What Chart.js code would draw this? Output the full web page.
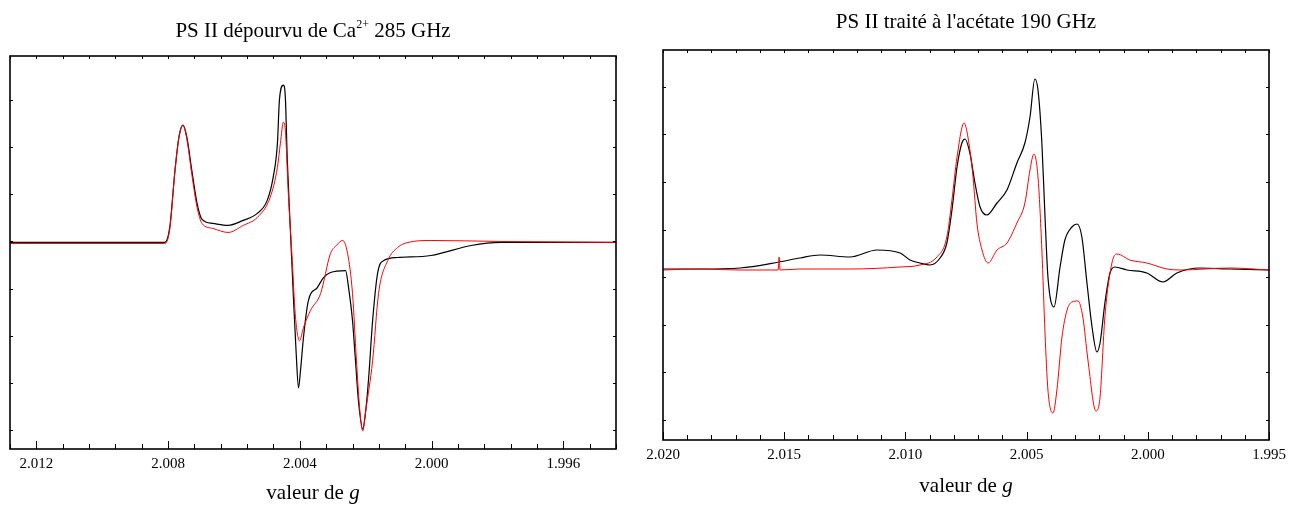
<!DOCTYPE html>
<html>
<head>
<meta charset="utf-8">
<script src="https://cdn.jsdelivr.net/npm/chart.js@4.4.0/dist/chart.umd.min.js"></script>
<style>
    html, body { margin: 0; padding: 0; background: #fff; }
    body { width: 1289px; height: 506px; position: relative; overflow: hidden; font-family: "Liberation Serif", "Times New Roman", serif; color: #000; }
    canvas { position: absolute; top: 0; }
    #left-chart { left: 0; }
    #right-chart { left: 640px; }
    .label { position: absolute; white-space: nowrap; font-size: 21px; line-height: 1; transform: translateX(-50%); z-index: 2; }
    .sup { font-size: 12px; position: relative; top: -9px; }
</style>
</head>
<body>
<canvas id="left-chart" width="640" height="506"></canvas>
<canvas id="right-chart" width="656" height="506"></canvas>

<div class="label" style="left:313px; top:20px;">PS II dépourvu de Ca<span class="sup">2+</span> 285 GHz</div>
<div class="label" style="left:966px; top:11px;">PS II traité à l'acétate 190 GHz</div>
<div class="label" style="left:313px; top:482px;">valeur de <i>g</i></div>
<div class="label" style="left:966px; top:475px;">valeur de <i>g</i></div>

<script>
// valeurs de g (axe x) et intensités (unités arbitraires)

// PS II dépourvu de Ca2+, 285 GHz
const leftBlackG = [2.01282, 2.0100, 2.00810, 2.00795, 2.00779, 2.00767, 2.00755, 2.00743, 2.00728, 2.00712,
    2.00697, 2.00664, 2.00618, 2.00572, 2.00529, 2.00499, 2.00481, 2.00468, 2.00462, 2.00450,
    2.00444, 2.00438, 2.00429, 2.00420, 2.00411, 2.00404, 2.00398, 2.00389, 2.00374, 2.00347,
    2.00328, 2.00307, 2.00261, 2.00252, 2.00240, 2.00231, 2.00222, 2.00209, 2.00200, 2.00191,
    2.00179, 2.00164, 2.00145, 2.00103, 2.00002, 1.99880, 1.99789, 1.99606, 1.99435];
const leftBlackI = [187, 187, 187, 202, 259, 292, 304, 292, 259, 226,
    210, 206, 204, 209, 216, 229, 252, 286, 329, 344,
    332, 269, 202, 136, 76, 42, 59, 92, 129, 142,
    152, 157, 159, 142, 109, 69, 29, 1, 19, 52,
    109, 156, 169, 172, 174, 184, 187, 187, 187];

const leftRedG = [2.01282, 2.00810, 2.00795, 2.00779, 2.00767, 2.00755, 2.00743, 2.00728, 2.00712, 2.00697,
    2.00664, 2.00618, 2.00572, 2.00529, 2.00490, 2.00468, 2.00459, 2.00450, 2.00444, 2.00435,
    2.00423, 2.00414, 2.00401, 2.00389, 2.00368, 2.00337, 2.00307, 2.00289, 2.00270, 2.00255,
    2.00240, 2.00228, 2.00219, 2.00209, 2.00200, 2.00179, 2.00161, 2.00133, 2.00103, 2.00072,
    2.00002, 1.99789, 1.99435];
const leftRedI = [186, 186, 200, 259, 292, 304, 290, 255, 222, 206,
    201, 197, 204, 212, 232, 262, 286, 307, 299, 236,
    169, 116, 89, 102, 119, 136, 176, 184, 189, 176,
    136, 69, 24, -1, 19, 69, 136, 169, 182, 187,
    189, 188, 187];

// PS II traité à l'acétate, 190 GHz
const rightBlackG = [2.02000, 2.01847, 2.01682, 2.01521, 2.01435, 2.01352, 2.01229, 2.01117, 2.01022, 2.00981,
    2.00940, 2.00899, 2.00857, 2.00829, 2.00808, 2.00787, 2.00767, 2.00754, 2.00734, 2.00713,
    2.00692, 2.00664, 2.00622, 2.00581, 2.00540, 2.00507, 2.00486, 2.00466, 2.00453, 2.00437,
    2.00424, 2.00412, 2.00387, 2.00362, 2.00342, 2.00313, 2.00292, 2.00272, 2.00251, 2.00230,
    2.00210, 2.00197, 2.00177, 2.00156, 2.00136, 2.00086, 2.00004, 1.99938, 1.99880, 1.99785,
    1.99661, 1.99500];
const rightBlackI = [151, 151, 152, 158, 162, 165, 163, 170, 167, 160,
    157, 155, 162, 177, 210, 253, 277, 281, 267, 237,
    213, 205, 217, 230, 257, 277, 303, 341, 330, 277,
    203, 143, 113, 153, 180, 193, 196, 183, 137, 93,
    68, 77, 117, 147, 153, 150, 147, 138, 147, 152,
    151, 150];

const rightRedG = [2.02000, 2.01847, 2.01682, 2.01525, 2.01521, 2.01517, 2.01435, 2.01229, 2.01022, 2.00940,
    2.00870, 2.00829, 2.00808, 2.00787, 2.00758, 2.00742, 2.00721, 2.00705, 2.00684, 2.00659,
    2.00622, 2.00581, 2.00540, 2.00507, 2.00486, 2.00470, 2.00453, 2.00437, 2.00424, 2.00412,
    2.00391, 2.00375, 2.00354, 2.00333, 2.00313, 2.00288, 2.00268, 2.00247, 2.00214, 2.00197,
    2.00177, 2.00148, 2.00127, 2.00074, 2.00004, 1.99921, 1.99867, 1.99661, 1.99500];
const rightRedI = [150, 151, 150, 150, 163, 150, 151, 151, 153, 155,
    163, 183, 220, 263, 297, 283, 243, 197, 170, 157,
    170, 177, 197, 217, 250, 266, 243, 170, 87, 30,
    7, 30, 83, 110, 118, 119, 103, 60, 9, 23,
    103, 157, 166, 160, 157, 151, 150, 152, 150];

// graduations
const leftXMajor = [2.012, 2.008, 2.004, 2.000, 1.996];
const rightXMajor = [2.020, 2.015, 2.010, 2.005, 2.000, 1.995];
const leftYTicks = [0, 47, 94, 141, 188, 235, 282, 329];
const rightYTicks = [0, 47.6, 95.2, 142.8, 190.4, 238, 285.6, 333.2];

function toPoints(gs, vals) {
    return gs.map((g, i) => ({ x: g, y: vals[i] }));
}

// cadre + graduations tournées vers l'intérieur
const frameTicks = {
    id: 'frameTicks',
    afterDatasetsDraw(chart, args, opts) {
        const { ctx, chartArea: a, scales: { x, y } } = chart;
        ctx.save();
        ctx.strokeStyle = '#000';
        ctx.lineWidth = 1;
        const seg = (x1, y1, x2, y2) => {
            ctx.beginPath();
            ctx.moveTo(x1, y1);
            ctx.lineTo(x2, y2);
            ctx.stroke();
        };
        const n = Math.round((opts.max - opts.min) / opts.step);
        for (let i = 0; i <= n; i++) {
            const v = opts.min + i * opts.step;
            const px = Math.round(x.getPixelForValue(v)) + 0.5;
            const major = opts.major.some(m => Math.abs(m - v) < 1e-6);
            seg(px, a.bottom, px, a.bottom - (major ? 8 : 5));
            seg(px, a.top, px, a.top + 3);
        }
        opts.yTicks.forEach(v => {
            const py = Math.round(y.getPixelForValue(v)) + 0.5;
            seg(a.left, py, a.left + 3, py);
            seg(a.right, py, a.right - 3, py);
        });
        ctx.lineWidth = 1.6;
        ctx.strokeRect(a.left, a.top, a.right - a.left, a.bottom - a.top);
        ctx.restore();
    }
};

Chart.defaults.font.family = '"Liberation Serif", "Times New Roman", serif';
Chart.defaults.color = '#000';

function makeChart(canvasId, cfg) {
    return new Chart(document.getElementById(canvasId), {
        type: 'line',
        data: {
            datasets: [
                {
                    label: 'rouge',
                    data: toPoints(cfg.redG, cfg.redI),
                    borderColor: '#ff0000',
                    borderWidth: 1
                },
                {
                    label: 'noir',
                    data: toPoints(cfg.blackG, cfg.blackI),
                    borderColor: '#000000',
                    borderWidth: 1.2
                }
            ]
        },
        options: {
            responsive: false,
            animation: false,
            devicePixelRatio: 1,
            elements: {
                point: { radius: 0 },
                line: { cubicInterpolationMode: 'monotone' }
            },
            layout: { padding: cfg.padding },
            plugins: {
                legend: { display: false },
                tooltip: { enabled: false },
                frameTicks: {
                    min: cfg.xMin,
                    max: cfg.xMax,
                    step: cfg.minorStep,
                    major: cfg.xMajor,
                    yTicks: cfg.yTicks
                }
            },
            scales: {
                x: {
                    type: 'linear',
                    reverse: true,
                    min: cfg.xMin,
                    max: cfg.xMax,
                    grid: { display: false, drawTicks: false },
                    border: { display: false },
                    afterBuildTicks: function(scale) {
                        scale.ticks = cfg.xMajor.map(v => ({ value: v }));
                    },
                    ticks: {
                        autoSkip: false,
                        maxRotation: 0,
                        padding: 6,
                        font: { size: 15 },
                        callback: function(value) {
                            return Number(value).toFixed(3);
                        }
                    }
                },
                y: {
                    display: false,
                    min: cfg.yMin,
                    max: cfg.yMax
                }
            }
        },
        plugins: [frameTicks]
    });
}

makeChart('left-chart', {
    redG: leftRedG, redI: leftRedI,
    blackG: leftBlackG, blackI: leftBlackI,
    xMin: 1.9944, xMax: 2.0128, minorStep: 0.0008, xMajor: leftXMajor,
    yMin: -19, yMax: 373, yTicks: leftYTicks,
    padding: { left: 10, right: 24, top: 56, bottom: 27 }
});

makeChart('right-chart', {
    redG: rightRedG, redI: rightRedI,
    blackG: rightBlackG, blackI: rightBlackI,
    xMin: 1.995, xMax: 2.020, minorStep: 0.001, xMajor: rightXMajor,
    yMin: -20, yMax: 370, yTicks: rightYTicks,
    padding: { left: 23, right: 27, top: 50, bottom: 36 }
});
</script>
</body>
</html>
